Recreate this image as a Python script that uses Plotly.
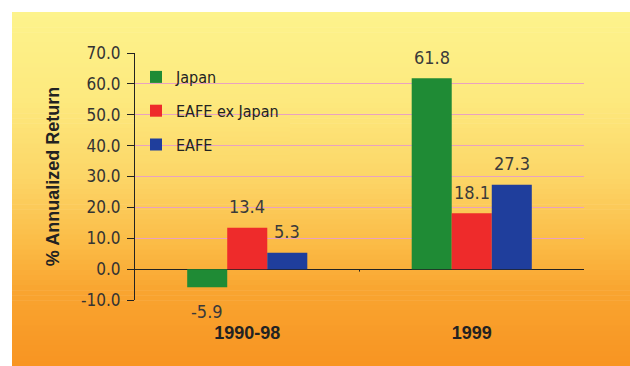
import plotly.graph_objects as go

categories = ["1990-98", "1999"]
japan = [-5.9, 61.8]
eafe_ex_japan = [13.4, 18.1]
eafe = [5.3, 27.3]
series_names = ["Japan", "EAFE ex Japan", "EAFE"]
y_ticks = [-10, 0, 10, 20, 30, 40, 50, 60, 70]
y_tick_text = ["%.1f" % v for v in y_ticks]

colors = ["#1f8b35", "#ee2b2b", "#1f3e9c"]
NARROW = "DejaVu Sans Condensed, Liberation Sans Narrow, Arial Narrow, Liberation Sans, sans-serif"
BOLD = "Liberation Sans, Arial, sans-serif"

W, H = 630, 366
L, R, T, B = 135, 46, 53, 66
pw, ph = W - L - R, H - T - B
BARGAP = 0.465

def px_to_paper_x(px):
    return (px - L) / pw

def px_to_paper_y(py):
    return (H - B - py) / ph

def hex2rgb(h):
    h = h.lstrip("#")
    return [int(h[i:i + 2], 16) for i in (0, 2, 4)]

stops = [(12, "#fdf38c"), (100, "#fde97e"), (180, "#fcd566"), (240, "#fbbd48"),
         (290, "#f9a530"), (366, "#f89422")]

def color_at(py):
    for (a, ca), (b, cb) in zip(stops[:-1], stops[1:]):
        if a <= py <= b:
            t = (py - a) / (b - a)
            c1, c2 = hex2rgb(ca), hex2rgb(cb)
            c = [round(c1[i] + (c2[i] - c1[i]) * t) for i in range(3)]
            return "rgb(%d,%d,%d)" % tuple(c)
    return stops[-1][1]

shapes = []
n = 70
y0px, y1px = 12, 366
step = (y1px - y0px) / n
for i in range(n):
    a = y0px + i * step
    b = a + step + 0.6
    shapes.append(dict(type="rect", xref="paper", yref="paper",
                       x0=px_to_paper_x(12), x1=px_to_paper_x(632),
                       y0=px_to_paper_y(min(b, 367)), y1=px_to_paper_y(a),
                       fillcolor=color_at(a + step / 2), line=dict(width=0),
                       layer="below"))

# legend backdrop: same gradient, drawn over the grid lines behind the legend
ly0, ly1 = 66, 160
m = 20
lstep = (ly1 - ly0) / m
for i in range(m):
    a = ly0 + i * lstep
    shapes.append(dict(type="rect", xref="paper", yref="paper",
                       x0=px_to_paper_x(136), x1=px_to_paper_x(290),
                       y0=px_to_paper_y(a + lstep + 0.6), y1=px_to_paper_y(a),
                       fillcolor=color_at(a + lstep / 2), line=dict(width=0),
                       layer="between"))

# small tick at category boundary on zero line
shapes.append(dict(type="line", xref="x", yref="y", x0=0.5, x1=0.5, y0=0, y1=-0.8,
                   line=dict(color="#222", width=1)))

fig = go.Figure()
annotations = []
bar_w = (1 - BARGAP) / 3
for k, (name, vals, col) in enumerate(zip(series_names, [japan, eafe_ex_japan, eafe], colors)):
    fig.add_trace(go.Bar(
        x=categories, y=vals, name=name, marker=dict(color=col, line=dict(width=0)),
        legendgroup=name,
    ))
    for i, v in enumerate(vals):
        annotations.append(dict(
            x=i + (k - 1) * bar_w, y=v, xref="x", yref="y",
            text="%.1f" % v, showarrow=False,
            yanchor="middle", yshift=21 if v >= 0 else -24,
            font=dict(family=NARROW, size=18, color="#3a3a3a"),
        ))

fig.update_layout(
    width=W, height=H,
    margin=dict(l=L, r=R, t=T, b=B),
    paper_bgcolor="white",
    plot_bgcolor="rgba(0,0,0,0)",
    barmode="group", bargap=BARGAP, bargroupgap=0,
    shapes=shapes,
    annotations=annotations,
    showlegend=True,
    legend=dict(x=px_to_paper_x(136), y=px_to_paper_y(60), xanchor="left", yanchor="top",
                bgcolor="rgba(0,0,0,0)", font=dict(family=NARROW, size=16, color="#222"),
                traceorder="grouped", tracegroupgap=10, itemwidth=30),
    xaxis=dict(showgrid=False, showline=False, ticks="outside", ticklen=16,
               tickcolor="rgba(0,0,0,0)", zeroline=False,
               tickfont=dict(family=BOLD, size=18, color="#222", weight="bold"),
               fixedrange=True),
    yaxis=dict(range=[-10, 70], tickvals=y_ticks, ticktext=y_tick_text,
               showgrid=True, gridcolor="#e9a2c0", gridwidth=1,
               zeroline=True, zerolinecolor="#222", zerolinewidth=1,
               showline=True, linecolor="#222", linewidth=1,
               ticks="outside", ticklen=7, tickcolor="#222", ticklabelstandoff=3,
               tickfont=dict(family=NARROW, size=17, color="#333"),
               title=dict(text="<b>% Annualized Return</b>", standoff=16,
                          font=dict(family=BOLD, size=18, color="#222"))),
)

fig.write_html("out.html")
